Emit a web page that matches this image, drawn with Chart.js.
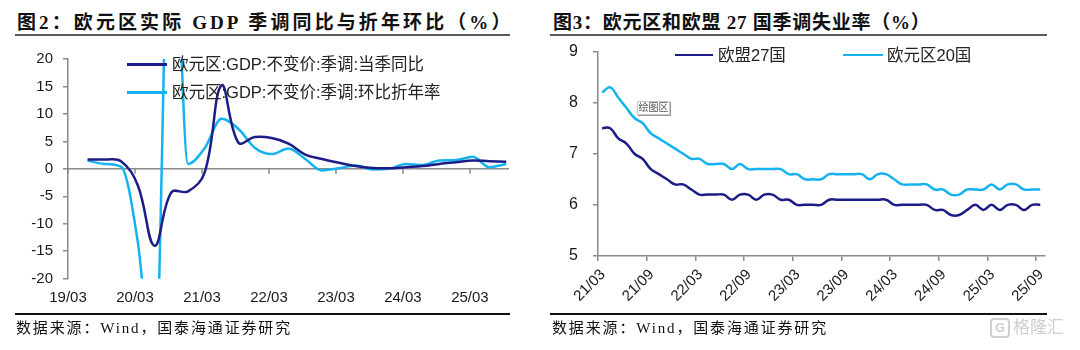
<!DOCTYPE html>
<html><head><meta charset="utf-8">
<script src="https://cdn.jsdelivr.net/npm/chart.js@4.4.1/dist/chart.umd.min.js"></script>
<style>
html,body{margin:0;padding:0;background:#fff;}
body{width:1080px;height:350px;position:relative;overflow:hidden;font-family:"Liberation Sans","Noto Sans CJK SC",sans-serif;}
.title{position:absolute;top:11px;line-height:24px;font-family:"Liberation Serif","Noto Sans CJK SC",serif;font-weight:bold;font-size:19px;color:#111;white-space:nowrap;}
.rule{position:absolute;top:34px;height:2px;background:#5a5a5a;}
.brule{position:absolute;top:313px;height:2px;background:#111;}
.src{position:absolute;top:319px;line-height:18px;font-family:"Liberation Serif","Noto Sans CJK SC",serif;font-size:15px;color:#111;white-space:nowrap;letter-spacing:1.85px;}
canvas{position:absolute;}
.lline{position:absolute;height:3px;}
.ltext{position:absolute;font-size:16.5px;line-height:18px;color:#222;white-space:nowrap;}
.tip{position:absolute;left:637px;top:101px;width:31px;height:12px;border:1px solid #c8c8c8;box-shadow:1px 1px 0 #9a9a9a;background:#fff;font-size:10px;line-height:12px;color:#555;text-align:center;}
.wm{position:absolute;left:990px;top:318px;color:#cfcfcf;font-size:17px;line-height:20px;white-space:nowrap;}
.wm b{display:inline-block;border:2px solid #cfcfcf;border-radius:4px;width:16px;height:16px;line-height:16px;font-size:13px;text-align:center;margin-right:3px;vertical-align:top;}
</style>
</head><body>
<div class="title" style="left:17px;letter-spacing:3.1px">图2：欧元区实际 GDP 季调同比与折年环比（%）</div>
<div class="rule" style="left:15px;width:495px"></div>
<div class="title" style="left:553px;letter-spacing:0.75px">图3：欧元区和欧盟 27 国季调失业率（%）</div>
<div class="rule" style="left:550px;width:497px"></div>
<canvas id="c1" width="530" height="280" style="left:0;top:40px"></canvas>
<canvas id="c2" width="530" height="290" style="left:540px;top:30px"></canvas>
<div class="tip">绘图区</div>
<div class="brule" style="left:15px;width:495px"></div>
<div class="brule" style="left:550px;width:497px"></div>
<div class="src" style="left:16px">数据来源：Wind，国泰海通证券研究</div>
<div class="src" style="left:552px">数据来源：Wind，国泰海通证券研究</div>
<div class="wm"><b>G</b>格隆汇</div>
<script>
// ---- Figure 2: Euro area real GDP (quarterly) ----
const gdpQuarters = ['19/06','19/09','19/12','20/03','20/06','20/09','20/12','21/03','21/06','21/09','21/12','22/03','22/06','22/09','22/12','23/03','23/06','23/09','23/12','24/03','24/06','24/09','24/12','25/03','25/06','25/09'];
const gdpYoY = [1.7,1.7,1.4,-3.0,-14.0,-4.3,-4.1,-0.6,15.2,4.8,5.8,5.6,4.6,2.6,1.8,1.1,0.5,0.15,0.1,0.3,0.5,0.9,1.2,1.5,1.4,1.3];
const gdpQoQAnn = [1.5,0.9,0.4,-13.3,-39.0,60.0,0.9,3.8,9.1,7.3,3.8,2.7,3.7,1.8,-0.3,0.1,0.6,-0.1,0.0,0.9,0.7,1.5,1.6,2.2,0.3,0.9];
const gdpTickLabels = ['19/03','20/03','21/03','22/03','23/03','24/03','25/03'];
const gdpNames = ['欧元区:GDP:不变价:季调:当季同比','欧元区:GDP:不变价:季调:环比折年率'];

// ---- Figure 3: unemployment rate (monthly) ----
const ueMonths = ['21/03','21/04','21/05','21/06','21/07','21/08','21/09','21/10','21/11','21/12',
 '22/01','22/02','22/03','22/04','22/05','22/06','22/07','22/08','22/09','22/10','22/11','22/12',
 '23/01','23/02','23/03','23/04','23/05','23/06','23/07','23/08','23/09','23/10','23/11','23/12',
 '24/01','24/02','24/03','24/04','24/05','24/06','24/07','24/08','24/09','24/10','24/11','24/12',
 '25/01','25/02','25/03','25/04','25/05','25/06','25/07','25/08','25/09'];
const eu27 = [7.5,7.5,7.3,7.2,7.0,6.9,6.7,6.6,6.5,6.4, 6.4,6.3,6.2,6.2,6.2,6.2,6.1,6.2,6.2,6.1, 6.2,6.2,6.1,6.1,6.0,6.0,6.0,6.0,6.1,6.1, 6.1,6.1,6.1,6.1,6.1,6.1,6.0,6.0,6.0,6.0, 6.0,5.9,5.9,5.8,5.8,5.9,6.0,5.9,6.0,5.9, 6.0,6.0,5.9,6.0,6.0];
const ea20 = [8.2,8.3,8.1,7.9,7.7,7.6,7.4,7.3,7.2,7.1, 7.0,6.9,6.9,6.8,6.8,6.8,6.7,6.8,6.7,6.7, 6.7,6.7,6.7,6.6,6.6,6.5,6.5,6.5,6.6,6.6, 6.6,6.6,6.6,6.5,6.6,6.6,6.5,6.4,6.4,6.4, 6.4,6.3,6.3,6.2,6.2,6.3,6.3,6.3,6.4,6.3, 6.4,6.4,6.3,6.3,6.3];
const ueTickLabels = ['21/03','21/09','22/03','22/09','23/03','23/09','24/03','24/09','25/03','25/09'];
const ueNames = ['欧盟27国','欧元区20国'];

const DARK = '#1c1c88';
const LIGHT = '#14b2f0';
const AXIS = '#8a8a8a';
const TXT = '#1a1a1a';
Chart.defaults.font.family = '"Liberation Sans","Noto Sans CJK SC",sans-serif';
Chart.defaults.color = TXT;

function mIdx(s){const p=s.split('/').map(Number);return p[0]*12+p[1]-1;}
function pts(labels, vals){return labels.map((l,i)=>({x:mIdx(l)+0.5,y:vals[i]}));}

const zeroAxis = {
  id:'zeroAxis',
  beforeDatasetsDraw(chart){
    const {ctx, chartArea:a, scales:{x,y}} = chart;
    const y0 = y.getPixelForValue(0);
    ctx.save();
    ctx.strokeStyle = AXIS; ctx.lineWidth = 1.5;
    ctx.beginPath(); ctx.moveTo(a.left, y0); ctx.lineTo(a.right, y0); ctx.stroke();
    x.ticks.forEach(t=>{const px=x.getPixelForValue(t.value);ctx.beginPath();ctx.moveTo(px,y0);ctx.lineTo(px,y0+5);ctx.stroke();});
    ctx.restore();
  }
};

// plot-area placement (page pixels) and adjustable layout state
const box1 = {left:68, top:59.3, right:509, bottom:279};
const box2 = {left:597.7, top:51.7, right:1044, bottom:256};
const st1 = {xh:31, padR:10};
const st2 = {xh:59, padR:16};

const c1 = new Chart(document.getElementById('c1'), {
  type:'line',
  data:{datasets:[
    {label:gdpNames[0], data:pts(gdpQuarters,gdpYoY), borderColor:DARK, borderWidth:2.5, pointRadius:0, tension:0.4},
    {label:gdpNames[1], data:pts(gdpQuarters,gdpQoQAnn), borderColor:LIGHT, borderWidth:2.5, pointRadius:0, cubicInterpolationMode:'monotone'}
  ]},
  options:{
    responsive:false, animation:false, events:[],
    layout:{padding:{left:0,top:0,right:st1.padR,bottom:0}},
    plugins:{legend:{display:false},tooltip:{enabled:false}},
    scales:{
      x:{type:'linear', min:mIdx(gdpTickLabels[0]), max:mIdx(gdpQuarters[gdpQuarters.length-1])+1,
        afterBuildTicks:s=>{s.ticks=gdpTickLabels.map(t=>({value:mIdx(t)}));},
        ticks:{autoSkip:false, maxRotation:0, padding:10, font:{size:15}, callback:(v,i)=>gdpTickLabels[i]},
        grid:{display:false, drawTicks:false}, border:{display:false},
        afterFit:s=>{s.height=st1.xh;}},
      y:{min:-20, max:20,
        ticks:{stepSize:5, padding:10, font:{size:15}},
        grid:{drawOnChartArea:false, drawTicks:true, tickLength:5, color:AXIS, lineWidth:1.5},
        border:{color:AXIS, width:1.5},
        afterFit:s=>{s.width=68;}}
    }
  },
  plugins:[zeroAxis]
});

const c2 = new Chart(document.getElementById('c2'), {
  type:'line',
  data:{datasets:[
    {label:ueNames[0], data:pts(ueMonths,eu27), borderColor:DARK, borderWidth:2.5, pointRadius:0, tension:0.4},
    {label:ueNames[1], data:pts(ueMonths,ea20), borderColor:LIGHT, borderWidth:2.5, pointRadius:0, tension:0.4}
  ]},
  options:{
    responsive:false, animation:false, events:[],
    layout:{padding:{left:0,top:0,right:st2.padR,bottom:0}},
    plugins:{legend:{display:false},tooltip:{enabled:false}},
    scales:{
      x:{type:'linear', min:mIdx(ueTickLabels[0]), max:mIdx(ueMonths[ueMonths.length-1])+1,
        afterBuildTicks:s=>{s.ticks=ueTickLabels.map(t=>({value:mIdx(t)}));},
        ticks:{autoSkip:false, minRotation:45, maxRotation:45, padding:5, labelOffset:5, font:{size:15}, callback:(v,i)=>ueTickLabels[i]},
        grid:{drawOnChartArea:false, drawTicks:true, tickLength:5, color:AXIS, lineWidth:1.5},
        border:{color:AXIS, width:1.5},
        afterFit:s=>{s.height=st2.xh;}},
      y:{min:5, max:9,
        ticks:{stepSize:1, padding:15, font:{size:16}},
        grid:{drawOnChartArea:false, drawTicks:true, tickLength:5, color:AXIS, lineWidth:1.5},
        border:{color:AXIS, width:1.5},
        afterFit:s=>{s.width=58;}}
    }
  }
});

// place each canvas so its plot area lands on the target box
function place(chart, box, st){
  for(let k=0;k<3;k++){
    const a = chart.chartArea;
    const cl = box.left - a.left, ct = box.top - a.top;
    chart.canvas.style.left = cl + 'px';
    chart.canvas.style.top = ct + 'px';
    st.padR += a.right - (box.right - cl);
    st.xh += a.bottom - (box.bottom - ct);
    chart.options.layout.padding.right = st.padR;
    chart.update();
  }
}
place(c1, box1, st1);
place(c2, box2, st2);

// HTML legends built from the dataset labels/colors
function legendItem(ds, lineLeft, lineW, cy, textLeft, h){
  const l=document.createElement('div'); l.className='lline';
  l.style.cssText=`left:${lineLeft}px;top:${cy-h/2}px;width:${lineW}px;height:${h}px;background:${ds.borderColor}`;
  const t=document.createElement('div'); t.className='ltext';
  t.style.cssText=`left:${textLeft}px;top:${cy-9}px`; t.textContent=ds.label;
  document.body.appendChild(l); document.body.appendChild(t);
}
legendItem(c1.data.datasets[0],127,40,64,172,3);
legendItem(c1.data.datasets[1],127,40,92,172,3);
legendItem(c2.data.datasets[0],675,38,55,718,2);
legendItem(c2.data.datasets[1],843,40,55,887,2);
</script>
</body></html>
